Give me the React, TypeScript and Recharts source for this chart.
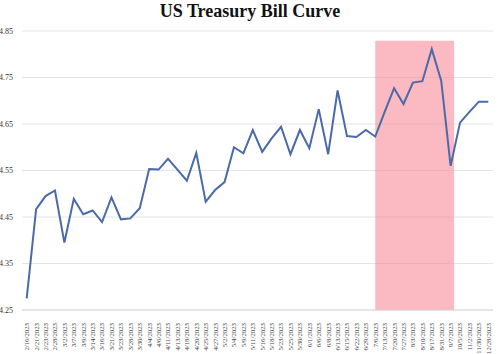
import React from "react";
import { LineChart, Line, XAxis, YAxis, CartesianGrid, ReferenceArea } from "recharts";

const dates: string[] = [
  "2/16/2023", "2/21/2023", "2/23/2023", "2/28/2023", "3/2/2023", "3/7/2023", "3/9/2023", "3/14/2023",
  "3/16/2023", "3/21/2023", "3/23/2023", "3/28/2023", "3/30/2023", "4/4/2023", "4/6/2023", "4/11/2023",
  "4/13/2023", "4/18/2023", "4/20/2023", "4/25/2023", "4/27/2023", "5/2/2023", "5/4/2023", "5/9/2023",
  "5/11/2023", "5/16/2023", "5/18/2023", "5/23/2023", "5/25/2023", "5/30/2023", "6/1/2023", "6/6/2023",
  "6/8/2023", "6/13/2023", "6/15/2023", "6/22/2023", "6/29/2023", "7/6/2023", "7/13/2023", "7/20/2023",
  "7/27/2023", "8/3/2023", "8/10/2023", "8/17/2023", "8/31/2023", "9/7/2023", "10/5/2023", "11/2/2023",
  "11/30/2023", "12/28/2023",
];

const yields: number[] = [
  4.275, 4.467, 4.495, 4.507, 4.395, 4.489, 4.456, 4.464,
  4.439, 4.492, 4.445, 4.447, 4.469, 4.553, 4.552, 4.575,
  4.552, 4.528, 4.588, 4.483, 4.508, 4.525, 4.600, 4.587,
  4.637, 4.590, 4.619, 4.644, 4.585, 4.637, 4.598, 4.682,
  4.585, 4.722, 4.624, 4.622, 4.637, 4.623, 4.676, 4.727,
  4.693, 4.739, 4.742, 4.811, 4.743, 4.560, 4.653, 4.676,
  4.698, 4.698,
];

const yTicks: number[] = [4.25, 4.35, 4.45, 4.55, 4.65, 4.75, 4.85];

const shadeStart = "7/6/2023";
const shadeEnd = "9/7/2023";
const shadeTop = 4.829;

const data = dates.map((d, i) => ({ date: d, value: yields[i] }));

const XTick = (props: any) => {
  const { x, y, payload } = props;
  return (
    <g transform={`translate(${x},${y})`}>
      <text
        transform="rotate(-90)"
        x={-5}
        y={0}
        dy={2.4}
        textAnchor="end"
        fontSize={6.8}
        fontFamily="Liberation Serif, serif"
        fill="#444"
      >
        {payload.value}
      </text>
    </g>
  );
};

const ShadeShape = (p: any) => (
  <rect x={p.x} y={p.y} width={p.width + 3.5} height={p.height} fill="#f98a98" fillOpacity={0.6} />
);

export default function App() {
  return (
    <div style={{ position: "absolute", left: 0, top: 0, width: 500, height: 354, background: "#fff" }}>
      <div
        style={{
          position: "absolute",
          left: 0,
          top: 1,
          width: 500,
          textAlign: "center",
          fontFamily: "Liberation Serif, serif",
          fontWeight: "bold",
          fontSize: 18,
          color: "#111",
        }}
      >
        US Treasury Bill Curve
      </div>
      <LineChart
        width={500}
        height={354}
        data={data}
        margin={{ top: 31, right: 7, left: 0, bottom: 0 }}
      >
        <CartesianGrid vertical={false} stroke="#e4e4e4" strokeWidth={1} />
        <XAxis
          dataKey="date"
          interval={0}
          height={44}
          tick={<XTick />}
          tickLine={false}
          axisLine={{ stroke: "#d9d9d9" }}
          padding={{ left: 4.7, right: 4.7 }}
        />
        <YAxis
          domain={[4.25, 4.85]}
          ticks={yTicks}
          width={22}
          tickLine={false}
          axisLine={false}
          tickMargin={3}
          tick={{ fontSize: 8, fill: "#333", fontFamily: "Liberation Serif, serif" }}
          tickFormatter={(v: number) => v.toFixed(2)}
          allowDataOverflow
        />
        <Line
          type="linear"
          dataKey="value"
          stroke="#4a6aa9"
          strokeWidth={2}
          dot={false}
          isAnimationActive={false}
        />
        <ReferenceArea
          x1={shadeStart}
          x2={shadeEnd}
          y1={4.25}
          y2={shadeTop}
          shape={<ShadeShape />}
        />
      </LineChart>
    </div>
  );
}
